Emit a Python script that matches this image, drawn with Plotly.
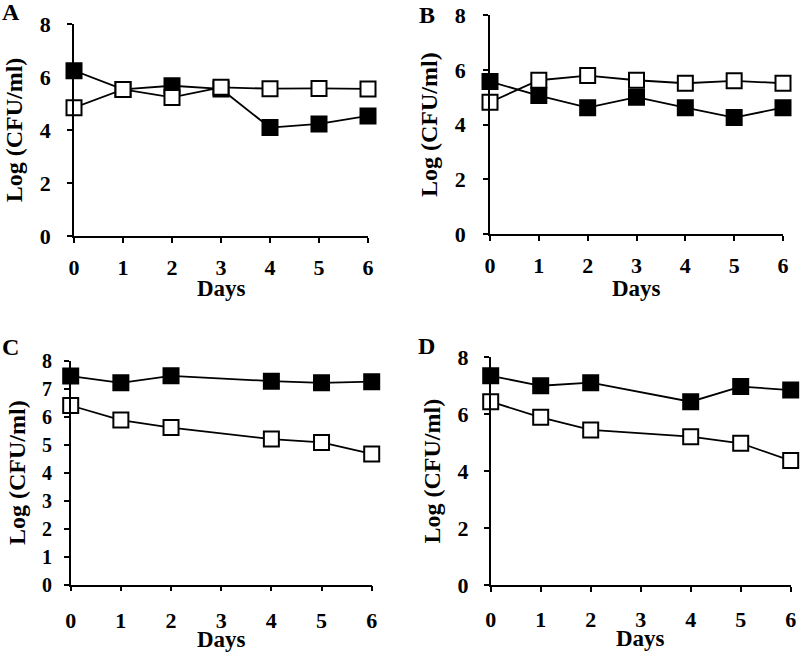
import plotly.graph_objects as go

days_AB = [0, 1, 2, 3, 4, 5, 6]
days_CD = [0, 1, 2, 4, 5, 6]

A_filled = [6.24, 5.53, 5.67, 5.55, 4.09, 4.23, 4.53]
A_open = [4.84, 5.53, 5.23, 5.61, 5.56, 5.57, 5.55]
B_filled = [5.57, 5.06, 4.62, 5.00, 4.62, 4.26, 4.62]
B_open = [4.82, 5.62, 5.79, 5.62, 5.51, 5.60, 5.51]
C_filled = [7.45, 7.21, 7.46, 7.27, 7.21, 7.25]
C_open = [6.40, 5.88, 5.61, 5.20, 5.08, 4.67]
D_filled = [7.35, 7.00, 7.11, 6.44, 6.97, 6.85]
D_open = [6.44, 5.89, 5.45, 5.21, 4.98, 4.37]

panel_letters = ["A", "B", "C", "D"]
x_title = "Days"
y_title = "Log (CFU/ml)"

W, H = 800, 653
FONT = "Liberation Serif"

def px_x(p):
    return p / W

def px_y(p):
    return 1 - p / H

# panel boxes: (left, right, top, bottom) in page pixels
boxes = [
    (74, 368, 24, 236),
    (490, 783, 15, 234.3),
    (70.7, 371.7, 360.7, 584.7),
    (490.7, 790.7, 357.3, 585),
]
ydticks = [2, 2, 1, 2]
ytickfs = [22, 22, 20, 22]
ystand = [12, 13, 8, 11]
xstand = [6, 6, 10, 9]
days_y = [288, 288, 639, 638]  # page y of the "Days" titles

series = [
    (days_AB, A_filled, A_open),
    (days_AB, B_filled, B_open),
    (days_CD, C_filled, C_open),
    (days_CD, D_filled, D_open),
]

fig = go.Figure()
layout = dict()
annotations = []
for i, ((l, r, t, b), (xs, yf, yo)) in enumerate(zip(boxes, series)):
    n = "" if i == 0 else str(i + 1)
    xa, ya = "x" + n, "y" + n
    for ys, fill in ((yf, "black"), (yo, "white")):
        fig.add_trace(go.Scatter(
            x=xs, y=ys, xaxis=xa, yaxis=ya, mode="lines+markers",
            line=dict(color="black", width=1.8),
            marker=dict(symbol="square", size=15, color=fill,
                        line=dict(color="black", width=2)),
            cliponaxis=False, showlegend=False,
        ))
    common = dict(showgrid=False, zeroline=False, showline=True, automargin=False,
                  linecolor="black", linewidth=1.5, ticks="outside",
                  ticklen=5, tickwidth=1.5, tickcolor="black")
    layout["xaxis" + n] = dict(
        common, domain=[px_x(l), px_x(r)], anchor=ya, range=[0, 6],
        tickmode="array", tickvals=list(range(7)),
        tickfont=dict(family=FONT, size=22, color="black", weight="bold"),
        ticklabelstandoff=xstand[i],
    )
    layout["yaxis" + n] = dict(
        common, domain=[px_y(b), px_y(t)], anchor=xa, range=[0, 8],
        tickmode="linear", tick0=0, dtick=ydticks[i],
        tickfont=dict(family=FONT, size=ytickfs[i], color="black", weight="bold"),
        title=dict(text=y_title, font=dict(family=FONT, size=24, color="black", weight="bold"), standoff=10),
        ticklabelstandoff=ystand[i],
    )
    annotations.append(dict(
        text=x_title, x=0.5, y=px_y(days_y[i]), xref=xa + " domain", yref="paper",
        showarrow=False, xanchor="center", yanchor="middle",
        font=dict(family=FONT, size=23, color="black", weight="bold"),
    ))

letter_pos = [(11, 12), (427, 15), (10, 347), (427, 346)]
for letter, (x, y) in zip(panel_letters, letter_pos):
    annotations.append(dict(
        text=letter, x=px_x(x), y=px_y(y), xref="paper", yref="paper",
        showarrow=False, xanchor="center", yanchor="middle",
        font=dict(family=FONT, size=24, color="black", weight="bold"),
    ))

fig.update_layout(
    width=W, height=H, margin=dict(l=0, r=0, t=0, b=0, autoexpand=False),
    paper_bgcolor="white", plot_bgcolor="white",
    annotations=annotations, showlegend=False,
    **layout,
)
fig.write_html("out.html", config={"displayModeBar": False},
               post_script="document.body.style.margin='0px';")
